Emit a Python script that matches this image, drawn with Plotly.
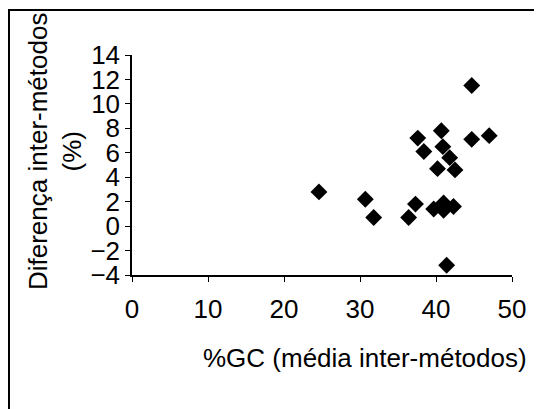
"""
GC scatter: inter-method difference vs mean %GC
"""

import plotly.graph_objects as go

# data
gc_mean = [44.7, 37.6, 40.7, 44.7, 47.0, 38.4, 40.9, 41.8, 40.2, 42.5,
           24.6, 30.7, 31.8, 36.4, 37.3, 39.7, 41.0, 41.0, 42.3, 41.4]
diff_pct = [11.5, 7.2, 7.8, 7.1, 7.4, 6.1, 6.5, 5.6, 4.7, 4.6,
            2.8, 2.2, 0.7, 0.7, 1.8, 1.4, 1.9, 1.3, 1.6, -3.2]

x_ticks = [0, 10, 20, 30, 40, 50]
y_ticks = [-4, -2, 0, 2, 4, 6, 8, 10, 12, 14]

FONT = 'Liberation Sans, Arial, sans-serif'

fig = go.Figure(go.Scatter(
    x=gc_mean,
    y=diff_pct,
    mode='markers',
    marker=dict(symbol='diamond', size=13, color='black'),
    showlegend=False
))

axis_common = dict(
    showline=True, linecolor='black', linewidth=1.5,
    ticks='outside', ticklen=5, tickwidth=1.2, tickcolor='black',
    showgrid=False, zeroline=False,
    tickfont=dict(family=FONT, size=26, color='black'),
    fixedrange=True
)

fig.update_xaxes(range=[0, 50], tickvals=x_ticks, ticklabelstandoff=5, **axis_common)
fig.update_yaxes(range=[-4, 14], tickvals=y_ticks, ticklabelstandoff=0, **axis_common)

# the page body adds an 8px offset, margins are shifted to compensate
fig.update_layout(
    width=542, height=409,
    margin=dict(l=124, r=38, t=47, b=142),
    plot_bgcolor='white', paper_bgcolor='white',
    font=dict(family=FONT, color='black'),
    annotations=[
        dict(text='Diferença inter-métodos<br>(%)', textangle=-90,
             xref='paper', yref='paper', x=-0.2026, y=0.559,
             xanchor='center', yanchor='middle',
             showarrow=False, font=dict(size=26)),
        dict(text='%GC (média inter-métodos)',
             xref='paper', yref='paper', x=0.613, y=-0.377,
             xanchor='center', yanchor='middle',
             showarrow=False, font=dict(size=26)),
    ],
    # outer frame around the whole chart
    shapes=[dict(type='rect', xref='paper', yref='paper',
                 x0=-0.3237, x1=1.0737, y0=-0.7, y1=1.2045,
                 line=dict(color='black', width=2))]
)

fig.write_html("out.html")
